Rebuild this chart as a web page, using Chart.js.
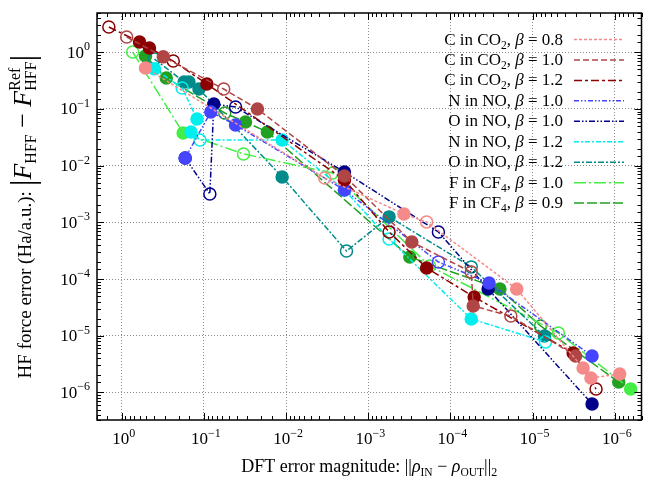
<!DOCTYPE html>
<html>
<head>
<meta charset="utf-8">
<script src="https://cdn.jsdelivr.net/npm/chart.js@4.4.0/dist/chart.umd.min.js"></script>
<style>
  body { margin: 0; background: #fff; }
  canvas { display: block; }
</style>
</head>
<body>
<canvas id="hffChart" width="649" height="479"></canvas>
<script>
// legend pieces
const atoms = ['C', 'C', 'C', 'N', 'O', 'N', 'O', 'F', 'F'];
const molecules = ['CO2', 'CO2', 'CO2', 'NO', 'NO', 'NO', 'NO', 'CF4', 'CF4'];
const betas = [0.8, 1.0, 1.2, 1.0, 1.0, 1.2, 1.2, 1.0, 0.9];

// DFT error (x), HF force error (y), open marker flag
const co2b08X = [0.514, 3.39e-3, 3.68e-4, 1.95e-4, 1.56e-5, 2.43e-6, 1.95e-6, 8.71e-7];
const co2b08Y = [0.53, 6.07e-3, 1.41e-3, 1.02e-3, 6.68e-5, 2.70e-6, 1.80e-6, 2.12e-6];
const co2b08Open = [0, 1, 0, 1, 0, 0, 0, 0];

const co2b10X = [0.870, 0.312, 0.0574, 0.0223, 1.95e-3, 2.95e-4, 5.58e-5, 5.28e-5, 1.84e-5, 3.0e-6];
const co2b10Y = [1.86, 0.83, 0.225, 0.100, 6.58e-3, 4.51e-4, 1.33e-4, 3.35e-5, 2.23e-5, 4.4e-6];
const co2b10Open = [1, 0, 1, 0, 0, 0, 1, 0, 1, 0];

const co2b12X = [1.435, 0.607, 0.460, 0.236, 0.0920, 1.95e-3, 5.58e-4, 1.95e-4, 5.14e-5, 3.21e-6, 1.69e-6];
const co2b12Y = [2.79, 1.52, 1.19, 0.70, 0.276, 5.60e-3, 6.78e-4, 1.57e-4, 4.83e-5, 4.98e-6, 1.15e-6];
const co2b12Open = [1, 0, 0, 1, 0, 0, 1, 0, 0, 0, 1];

const nInNo10X = [0.169, 0.0824, 0.0412, 1.95e-3, 1.40e-4, 3.39e-5, 1.89e-6];
const nInNo10Y = [0.0137, 0.0885, 0.0522, 3.73e-3, 2.00e-4, 8.53e-5, 4.41e-6];
const nInNo10Open = [0, 0, 0, 0, 1, 0, 0];

const oInNo10X = [0.169, 0.0847, 0.0757, 0.0412, 1.95e-3, 1.40e-4, 3.48e-5, 1.89e-6];
const oInNo10Y = [0.0137, 3.17e-3, 0.1225, 0.1084, 7.74e-3, 6.78e-4, 6.68e-5, 6.27e-7];
const oInNo10Open = [1, 1, 0, 1, 0, 1, 0, 0];

const nInNo12X = [0.400, 0.184, 0.1214, 0.1435, 0.1117, 0.01117, 1.95e-3, 5.58e-4, 5.58e-5, 6.97e-6];
const nInNo12Y = [0.51, 0.235, 0.0666, 0.0393, 0.0284, 0.0284, 3.73e-3, 5.10e-4, 1.98e-5, 7.78e-6];
const nInNo12Open = [0, 1, 0, 0, 1, 0, 1, 1, 0, 1];

const oInNo12X = [0.400, 0.174, 0.152, 0.1149, 0.01117, 1.84e-3, 5.58e-4, 5.58e-5, 7.17e-6];
const oInNo12Y = [0.76, 0.30, 0.30, 0.225, 6.32e-3, 3.13e-4, 1.25e-3, 1.64e-4, 9.9e-6];
const oInNo12Open = [1, 0, 0, 0, 0, 1, 0, 1, 0];

const cf4b10X = [0.737, 0.179, 0.0330, 2.72e-3, 1.79e-4, 4.86e-6, 6.41e-7];
const cf4b10Y = [1.01, 0.0377, 0.0161, 7.43e-3, 1.70e-4, 1.12e-5, 1.15e-6];
const cf4b10Open = [1, 0, 1, 1, 1, 1, 0];

const cf4b09X = [0.514, 0.287, 0.0558, 0.0312, 0.0169, 3.12e-4, 2.50e-5, 8.01e-6, 8.95e-7];
const cf4b09Y = [0.86, 0.352, 0.085, 0.059, 0.0393, 2.45e-4, 6.68e-5, 1.49e-5, 1.53e-6];
const cf4b09Open = [0, 0, 1, 0, 0, 0, 0, 1, 0];

const seriesX = [co2b08X, co2b10X, co2b12X, nInNo10X, oInNo10X, nInNo12X, oInNo12X, cf4b10X, cf4b09X];
const seriesY = [co2b08Y, co2b10Y, co2b12Y, nInNo10Y, oInNo10Y, nInNo12Y, oInNo12Y, cf4b10Y, cf4b09Y];
const seriesOpen = [co2b08Open, co2b10Open, co2b12Open, nInNo10Open, oInNo10Open, nInNo12Open, oInNo12Open, cf4b10Open, cf4b09Open];

const colours = ['#f58a8a', '#b04545', '#8b0000', '#4545ff', '#00008b', '#00eeee', '#008b8b', '#44ee44', '#22a022'];
const dashes = [[3, 2], [6, 3], [8, 3, 3, 3], [5, 2, 1.5, 2, 1.5, 2], [6, 2, 1.5, 2, 1.5, 2], [5, 2, 2, 2], [6, 2, 2, 2], [12, 3, 2, 3], [10, 3]];

const SERIF = '"Liberation Serif", "DejaVu Serif", serif';

const datasets = seriesX.map((xs, i) => ({
  label: atoms[i] + ' in ' + molecules[i] + ', β = ' + betas[i].toFixed(1),
  data: xs.map((x, k) => ({ x: x, y: seriesY[i][k] })),
  showLine: true,
  borderColor: colours[i],
  borderWidth: 1.5,
  borderDash: dashes[i],
  pointRadius: 6,
  pointHoverRadius: 6,
  pointBorderWidth: 1.5,
  pointBorderColor: colours[i],
  pointBackgroundColor: seriesOpen[i].map(o => o ? 'rgba(0,0,0,0)' : colours[i]),
}));

function isDecade(v) {
  const l = Math.log10(v);
  return Math.abs(l - Math.round(l)) < 1e-6;
}

// little rich text helper: parts {t, size, italic, dy} or {sup, sub}
function fontOf(p) {
  return (p.italic ? 'italic ' : '') + p.size + 'px ' + SERIF;
}
function partWidth(ctx, p) {
  if (p.sup) return Math.max(partWidth(ctx, p.sup), partWidth(ctx, p.sub));
  ctx.font = fontOf(p);
  return ctx.measureText(p.t).width;
}
function drawParts(ctx, parts, x, y, align) {
  const ws = parts.map(p => partWidth(ctx, p));
  const total = ws.reduce((a, b) => a + b, 0);
  let cx = align === 'right' ? x - total : align === 'center' ? x - total / 2 : x;
  ctx.textAlign = 'left';
  ctx.textBaseline = 'alphabetic';
  parts.forEach((p, i) => {
    const pieces = p.sup ? [p.sup, p.sub] : [p];
    pieces.forEach(q => {
      ctx.font = fontOf(q);
      ctx.fillText(q.t, cx, y + (q.dy || 0));
    });
    cx += ws[i];
  });
}
function powerLabel(v) {
  const n = Math.round(Math.log10(v));
  return [{ t: '10', size: 17 }, { t: n === 0 ? '0' : '\u2212' + (-n), size: 12, dy: -7.5 }];
}

const decorations = {
  id: 'decorations',
  afterDraw(chart) {
    const ctx = chart.ctx;
    const a = chart.chartArea;
    const xs = chart.scales.x;
    const ys = chart.scales.y;
    ctx.save();
    ctx.fillStyle = '#000';
    ctx.strokeStyle = '#000';

    // inward tick marks on all four sides
    ctx.lineWidth = 1;
    ctx.beginPath();
    xs.ticks.forEach(t => {
      const px = Math.round(xs.getPixelForValue(t.value)) + 0.5;
      const len = isDecade(t.value) ? 7 : 4;
      ctx.moveTo(px, a.bottom); ctx.lineTo(px, a.bottom - len);
      ctx.moveTo(px, a.top); ctx.lineTo(px, a.top + len);
    });
    ys.ticks.forEach(t => {
      const py = Math.round(ys.getPixelForValue(t.value)) + 0.5;
      const len = isDecade(t.value) ? 7 : 4;
      ctx.moveTo(a.left, py); ctx.lineTo(a.left + len, py);
      ctx.moveTo(a.right, py); ctx.lineTo(a.right - len, py);
    });
    ctx.stroke();

    ctx.lineWidth = 1.5;
    ctx.strokeRect(a.left, a.top, a.right - a.left, a.bottom - a.top);

    // tick labels
    xs.ticks.filter(t => isDecade(t.value)).forEach(t => {
      drawParts(ctx, powerLabel(t.value), xs.getPixelForValue(t.value) + 2, a.bottom + 24, 'center');
    });
    ys.ticks.filter(t => isDecade(t.value)).forEach(t => {
      drawParts(ctx, powerLabel(t.value), a.left - 7, ys.getPixelForValue(t.value) + 5.5, 'right');
    });

    // axis titles
    drawParts(ctx, [
      { t: 'DFT error magnitude: ', size: 18 },
      { t: '||', size: 18 },
      { t: 'ρ', size: 18, italic: true },
      { t: 'IN', size: 11.5, dy: 4 },
      { t: ' \u2212 ', size: 18 },
      { t: 'ρ', size: 18, italic: true },
      { t: 'OUT', size: 11.5, dy: 4 },
      { t: '||', size: 18 },
      { t: '2', size: 12, dy: 4 },
    ], (a.left + a.right) / 2, 472, 'center');

    ctx.save();
    ctx.translate(31, (a.top + a.bottom) / 2);
    ctx.rotate(-Math.PI / 2);
    drawParts(ctx, [
      { t: 'HF force error (Ha/a.u.): ', size: 19 },
      { t: '|', size: 34, dy: 3 },
      { t: 'F', size: 26, italic: true },
      { t: 'HFF', size: 16, dy: 5 },
      { t: ' \u2212 ', size: 26 },
      { t: 'F', size: 26, italic: true },
      { sup: { t: 'Ref', size: 16, dy: -11 }, sub: { t: 'HFF', size: 16, dy: 5 } },
      { t: '|', size: 34, dy: 3 },
    ], 0, 0, 'center');
    ctx.restore();

    // legend
    chart.data.datasets.forEach((ds, i) => {
      const rowY = 39 + 20.45 * i;
      const mol = molecules[i];
      const m = mol.match(/^([A-Z]+)(\d*)$/);
      const parts = [{ t: atoms[i] + ' in ' + m[1], size: 17 }];
      if (m[2]) parts.push({ t: m[2], size: 11.5, dy: 4 });
      parts.push({ t: ', ', size: 17 }, { t: 'β', size: 17, italic: true }, { t: ' = ' + betas[i].toFixed(1), size: 17 });
      ctx.fillStyle = '#000';
      drawParts(ctx, parts, 563, rowY + 5.5, 'right');
      ctx.save();
      ctx.strokeStyle = ds.borderColor;
      ctx.lineWidth = 1.5;
      ctx.setLineDash(ds.borderDash);
      ctx.beginPath();
      ctx.moveTo(574, rowY + 0.5);
      ctx.lineTo(624, rowY + 0.5);
      ctx.stroke();
      ctx.restore();
    });
    ctx.restore();
  }
};

const gridColour = c => (c.tick && isDecade(c.tick.value)) ? '#8a8a8a' : 'rgba(0,0,0,0)';

new Chart(document.getElementById('hffChart').getContext('2d'), {
  type: 'scatter',
  data: { datasets: datasets },
  options: {
    responsive: false,
    animation: false,
    devicePixelRatio: 1,
    layout: { padding: { left: 0, right: 2, top: 13, bottom: 0 } },
    plugins: { legend: { display: false }, tooltip: { enabled: false } },
    elements: { line: { tension: 0 } },
    scales: {
      x: {
        type: 'logarithmic',
        reverse: true,
        min: 4.73e-7,
        max: 2.0,
        ticks: { display: false },
        grid: { color: gridColour, lineWidth: 1, drawTicks: false },
        border: { display: false, dash: [1, 2] },
        afterFit: s => { s.height = 59; },
      },
      y: {
        type: 'logarithmic',
        min: 3.27e-7,
        max: 4.93,
        ticks: { display: false },
        grid: { color: gridColour, lineWidth: 1, drawTicks: false },
        border: { display: false, dash: [1, 2] },
        afterFit: s => { s.width = 97; },
      },
    },
  },
  plugins: [decorations],
});
</script>
</body>
</html>
